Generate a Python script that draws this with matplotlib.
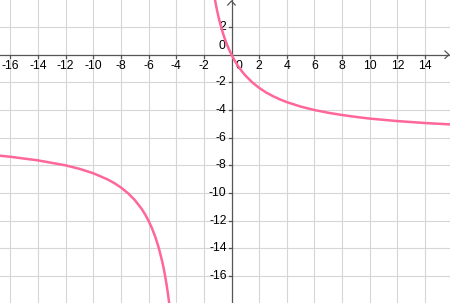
import matplotlib
matplotlib.use('Agg')
import matplotlib.pyplot as plt

plt.rcParams['font.family'] = ['Liberation Sans', 'DejaVu Sans']
plt.rcParams['axes.unicode_minus'] = False

# right branch (x > -3)
right_x = [-1.2, -1.1, -1.0, -0.9, -0.8, -0.7, -0.6, -0.5, -0.4, -0.3, -0.2, -0.1,
           0.0, 0.25, 0.5, 0.75, 1.0, 1.5, 2.0, 2.5, 3.0, 3.5, 4.0, 5.0, 6.0,
           7.0, 8.0, 9.0, 10.0, 12.0, 14.0, 16.0]
right_y = [4.0, 3.47, 3.0, 2.57, 2.18, 1.83, 1.5, 1.2, 0.92, 0.67, 0.43, 0.21,
           0.0, -0.46, -0.86, -1.2, -1.5, -2.0, -2.4, -2.73, -3.0, -3.23, -3.43, -3.75, -4.0,
           -4.2, -4.36, -4.5, -4.62, -4.8, -4.94, -5.05]

# left branch (x < -3)
left_x = [-16.8, -16.0, -14.0, -12.0, -11.0, -10.0, -9.0, -8.5, -8.0, -7.5, -7.0,
          -6.5, -6.25, -6.0, -5.75, -5.5, -5.25, -5.0, -4.9, -4.8, -4.7, -4.6, -4.5, -4.4]
left_y = [-7.30, -7.38, -7.64, -8.0, -8.25, -8.57, -9.0, -9.27, -9.6, -10.0, -10.5,
          -11.14, -11.54, -12.0, -12.55, -13.2, -14.0, -15.0, -15.47, -16.0, -16.59, -17.25, -18.0, -18.86]

x_ticks = [-16, -14, -12, -10, -8, -6, -4, -2, 0, 2, 4, 6, 8, 10, 12, 14]
y_ticks = [2, 0, -2, -4, -6, -8, -10, -12, -14, -16]

px = 1 / 13.83  # one pixel in data units
x_min, x_max = -231.5 * px, 218.5 * px
y_min, y_max = -248.3 * px, 54.7 * px

fig = plt.figure(figsize=(4.5, 3.03), dpi=100)
ax = fig.add_axes([0, 0, 1, 1])
ax.set_xlim(x_min, x_max)
ax.set_ylim(y_min, y_max)
ax.axis('off')

grid_col = '#d6d6d6'
for gx in x_ticks:
    if gx != 0:
        ax.axvline(gx, color=grid_col, lw=0.8, zorder=1)
for gy in y_ticks:
    if gy != 0:
        ax.axhline(gy, color=grid_col, lw=0.8, zorder=1)

axis_col = '#555555'
ax.axhline(0, color=axis_col, lw=0.9, zorder=2)
ax.axvline(0, color=axis_col, lw=0.9, zorder=2)

# axis arrows
ax.plot([-3.7 * px, 0, 3.7 * px], [y_max - 5 * px, y_max - 1 * px, y_max - 5 * px],
        color=axis_col, lw=0.9, zorder=2)
ax.plot([x_max - 5 * px, x_max - 1 * px, x_max - 5 * px], [3.7 * px, 0, -3.7 * px],
        color=axis_col, lw=0.9, zorder=2)

for t in x_ticks:
    if t != 0:
        ax.plot([t, t], [0, -3 * px], color=axis_col, lw=0.9, zorder=2)
        ax.text(t, -5 * px, str(t), ha='center', va='top', fontsize=8.8, color='black', zorder=3)
ax.text(7.5 * px, -5 * px, '0', ha='center', va='top', fontsize=8.8, color='black', zorder=3)

for t in y_ticks:
    if t != 0:
        ax.plot([0, -3 * px], [t, t], color=axis_col, lw=0.9, zorder=2)
        ax.text(-5 * px, t, str(t), ha='right', va='center', fontsize=8.8, color='black', zorder=3)
ax.text(-6 * px, 2.5 * px, '0', ha='right', va='bottom', fontsize=8.8, color='black', zorder=3)

curve_col = '#ff6699'
ax.plot(right_x, right_y, color=curve_col, lw=1.8, zorder=4, solid_capstyle='round')
ax.plot(left_x, left_y, color=curve_col, lw=1.8, zorder=4, solid_capstyle='round')

fig.savefig('out.png', dpi=100)
